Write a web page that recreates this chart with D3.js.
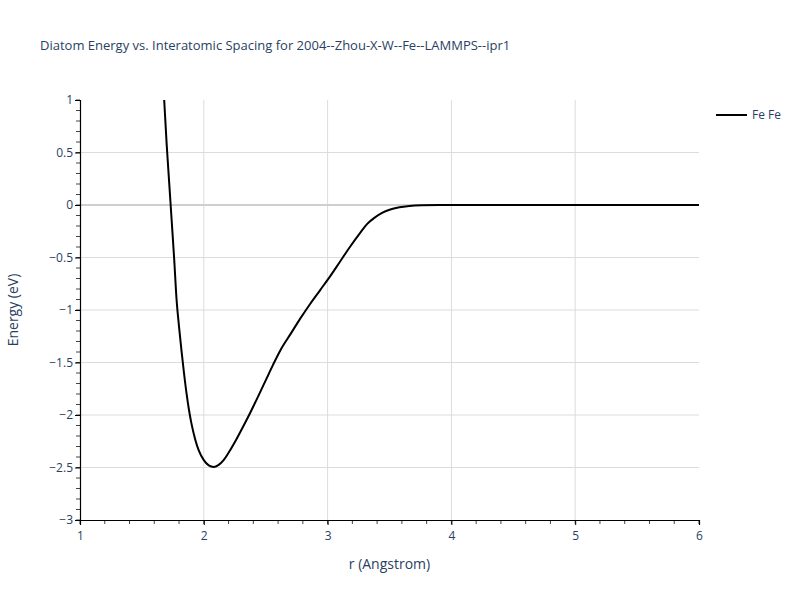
<!DOCTYPE html>
<html>
<head>
<meta charset="utf-8">
<script src="https://cdn.jsdelivr.net/npm/d3@7"></script>
<style>
  body { margin: 0; background: #fff; }
  text { font-family: "Open Sans", verdana, arial, sans-serif; fill: #2a3f5f; }
</style>
</head>
<body>
<div id="chart"></div>
<script>
// r (Angstrom) and energy (eV)
const rValues = [1.66, 1.68, 1.70, 1.72, 1.74, 1.76, 1.78, 1.80, 1.82, 1.84, 1.86, 1.88, 1.90, 1.93, 1.96,
  2.00, 2.04, 2.08, 2.12, 2.16, 2.20, 2.25, 2.30, 2.37, 2.44, 2.50, 2.56, 2.62, 2.70, 2.78, 2.86, 2.94,
  3.02, 3.10, 3.18, 3.26, 3.32, 3.38, 3.44, 3.50, 3.58, 3.66, 3.76, 3.90, 6.00];
const energyValues = [1.45, 1.0, 0.58, 0.22, -0.14, -0.50, -0.90, -1.16, -1.39, -1.60, -1.79, -1.95, -2.08, -2.23, -2.34,
  -2.43, -2.48, -2.495, -2.475, -2.43, -2.36, -2.26, -2.15, -1.99, -1.82, -1.67, -1.52, -1.38, -1.23, -1.08, -0.94, -0.81,
  -0.68, -0.54, -0.40, -0.27, -0.18, -0.12, -0.075, -0.045, -0.022, -0.01, -0.003, 0, 0];
const xTicks = [1, 2, 3, 4, 5, 6];
const yTicks = [-3, -2.5, -2, -1.5, -1, -0.5, 0, 0.5, 1];
const seriesName = 'Fe Fe';

const width = 800, height = 600;
const margin = {left: 80, right: 101, top: 100, bottom: 80};
const innerW = width - margin.left - margin.right;
const innerH = height - margin.top - margin.bottom;

const svg = d3.select('#chart').append('svg')
  .attr('width', width)
  .attr('height', height);

const x = d3.scaleLinear().domain([1, 6]).range([0, innerW]);
const y = d3.scaleLinear().domain([-3, 1]).range([innerH, 0]);

const fmt = v => (v < 0 ? '\u2212' : '') + Math.abs(v);

svg.append('text')
  .attr('x', 40)
  .attr('y', 50)
  .style('font-size', '13px')
  .text('Diatom Energy vs. Interatomic Spacing for 2004--Zhou-X-W--Fe--LAMMPS--ipr1');

const g = svg.append('g')
  .attr('transform', 'translate(' + margin.left + ',' + margin.top + ')');

// grid
g.selectAll('.vgrid')
  .data(xTicks.filter(d => d > 1 && d < 6))
  .enter().append('line')
  .attr('x1', d => x(d)).attr('x2', d => x(d))
  .attr('y1', 0).attr('y2', innerH)
  .attr('stroke', '#dcdcdc').attr('stroke-width', 1);
g.selectAll('.hgrid')
  .data(yTicks.filter(d => d > -3 && d < 1 && d !== 0))
  .enter().append('line')
  .attr('x1', 0).attr('x2', innerW)
  .attr('y1', d => y(d)).attr('y2', d => y(d))
  .attr('stroke', '#dcdcdc').attr('stroke-width', 1);
g.append('line')
  .attr('x1', 0).attr('x2', innerW)
  .attr('y1', y(0)).attr('y2', y(0))
  .attr('stroke', '#cfcfcf').attr('stroke-width', 2);

// curve
g.append('clipPath').attr('id', 'clip')
  .append('rect').attr('width', innerW).attr('height', innerH);

const pts = rValues.map((r, i) => ({x: r, y: energyValues[i]}));
const line = d3.line()
  .x(d => x(d.x))
  .y(d => y(d.y))
  .curve(d3.curveMonotoneX);

g.append('path')
  .attr('clip-path', 'url(#clip)')
  .attr('fill', 'none')
  .attr('stroke', '#000')
  .attr('stroke-width', 2)
  .attr('d', line(pts));

// minor ticks
const xMinor = d3.range(10, 61, 2).map(v => v / 10);
const yMinor = d3.range(-30, 11, 1).map(v => v / 10);
g.selectAll('.xminor').data(xMinor).enter().append('line')
  .attr('x1', d => x(d)).attr('x2', d => x(d))
  .attr('y1', innerH).attr('y2', innerH + 4)
  .attr('stroke', '#444').attr('stroke-width', 1);
g.selectAll('.yminor').data(yMinor).enter().append('line')
  .attr('x1', -4).attr('x2', 0)
  .attr('y1', d => y(d)).attr('y2', d => y(d))
  .attr('stroke', '#444').attr('stroke-width', 1);

// axes
const xAxis = d3.axisBottom(x).tickValues(xTicks).tickFormat(fmt).tickSize(5).tickPadding(6);
const yAxis = d3.axisLeft(y).tickValues(yTicks).tickFormat(fmt).tickSize(5).tickPadding(2);

const gx = g.append('g')
  .attr('transform', 'translate(0,' + innerH + ')')
  .call(xAxis);
const gy = g.append('g').call(yAxis);
[gx, gy].forEach(a => {
  a.select('.domain').attr('stroke', '#000').attr('stroke-width', 1.2);
  a.selectAll('.tick line').attr('stroke', '#000');
  a.selectAll('.tick text')
    .style('font-size', '12px')
    .style('font-family', '"Open Sans", verdana, arial, sans-serif')
    .attr('fill', '#2a3f5f');
});

svg.append('text')
  .attr('x', margin.left + innerW / 2)
  .attr('y', 569)
  .attr('text-anchor', 'middle')
  .style('font-size', '14px')
  .text('r (Angstrom)');
svg.append('text')
  .attr('transform', 'translate(18,' + (margin.top + innerH / 2) + ') rotate(-90)')
  .attr('text-anchor', 'middle')
  .style('font-size', '14px')
  .text('Energy (eV)');

// legend
const legend = svg.append('g').attr('transform', 'translate(716,115)');
legend.append('line')
  .attr('x1', 0).attr('x2', 31)
  .attr('stroke', '#000').attr('stroke-width', 2);
legend.append('text')
  .attr('x', 36)
  .attr('y', 4)
  .style('font-size', '12px')
  .text(seriesName);
</script>
</body>
</html>
